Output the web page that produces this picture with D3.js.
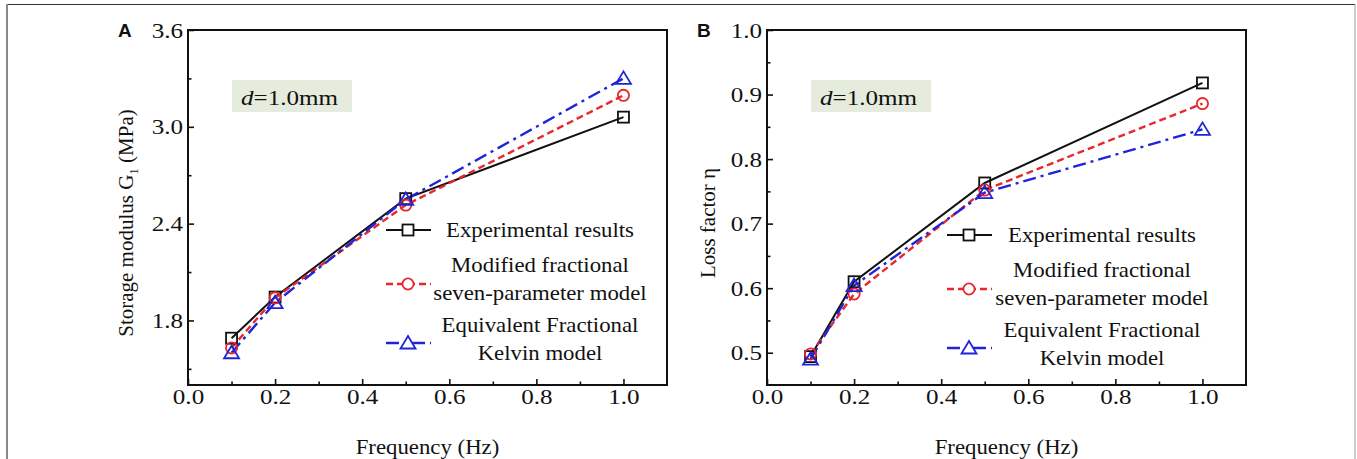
<!DOCTYPE html>
<html>
<head>
<meta charset="utf-8">
<script src="https://cdn.jsdelivr.net/npm/d3@7"></script>
<style>
  body { margin: 0; background: #fff; }
  svg { display: block; font-family: "Liberation Serif", "Times New Roman", serif; }
</style>
</head>
<body>
<div id="chart"></div>
<script>
// data
const freq = [0.1, 0.2, 0.5, 1.0];

const storageExp = [1.69, 1.945, 2.555, 3.06];
const storageMod = [1.63, 1.94, 2.515, 3.195];
const storageEq = [1.60, 1.91, 2.55, 3.30];

const lossExp = [0.494, 0.610, 0.763, 0.918];
const lossMod = [0.498, 0.591, 0.752, 0.886];
const lossEq = [0.490, 0.604, 0.748, 0.846];

const xMajor = [0.0, 0.2, 0.4, 0.6, 0.8, 1.0];
const xMinor = [0.1, 0.3, 0.5, 0.7, 0.9];
const storageMajor = [1.8, 2.4, 3.0, 3.6];
const storageMinor = [1.5, 2.1, 2.7, 3.3];
const lossMajor = [0.5, 0.6, 0.7, 0.8, 0.9, 1.0];
const lossMinor = [0.55, 0.65, 0.75, 0.85, 0.95];

const seriesNames = ["Experimental results", "Modified fractional|seven-parameter model", "Equivalent Fractional|Kelvin model"];
const seriesStyle = [
  { color: "#111111", dash: null, marker: "square", width: 2 },
  { color: "#e8262b", dash: "7,4", marker: "circle", width: 2.4 },
  { color: "#1f24d8", dash: "13,5,3,5", marker: "triangle", width: 2.4 },
];

const SX = 1.14; // the source text is drawn a bit wide

const width = 1357, height = 459;
const svg = d3.select("#chart").append("svg").attr("width", width).attr("height", height);

// outer frame of the figure
svg.append("line").attr("x1", 7).attr("x2", 1355).attr("y1", 4.5).attr("y2", 4.5).attr("stroke", "#333").attr("stroke-width", 1);
svg.append("line").attr("x1", 7).attr("x2", 7).attr("y1", 4).attr("y2", height).attr("stroke", "#888").attr("stroke-width", 2);
svg.append("line").attr("x1", 1355).attr("x2", 1355).attr("y1", 4).attr("y2", height).attr("stroke", "#999").attr("stroke-width", 1);

function wideText(g, x, y, str, size, anchor) {
  const t = g.append("g").attr("transform", `translate(${x},${y}) scale(${SX},1)`)
    .append("text")
    .attr("text-anchor", anchor || "start")
    .attr("dy", "0.35em")
    .attr("font-size", size + "px")
    .attr("fill", "#111");
  t.text(str);
  return t;
}

function drawMarker(g, type, x, y, fill) {
  let m;
  if (type === "square") {
    m = g.append("rect").attr("x", x - 5.5).attr("y", y - 5.5).attr("width", 11).attr("height", 11);
  } else if (type === "circle") {
    m = g.append("circle").attr("cx", x).attr("cy", y).attr("r", 5.6);
  } else {
    m = g.append("path").attr("d", `M${x},${y - 7}L${x + 7.5},${y + 5.5}L${x - 7.5},${y + 5.5}Z`);
  }
  return m.attr("fill", fill);
}

const panels = [
  {
    label: "A", left: 188, yDomain: [1.4, 3.6], yMajor: storageMajor, yMinor: storageMinor,
    series: [storageExp, storageMod, storageEq], yTitle: "storage",
    legendSym: 220, legendText: 352, legendTop: 230, titleX: 62,
  },
  {
    label: "B", left: 767, yDomain: [0.45, 1.0], yMajor: lossMajor, yMinor: lossMinor,
    series: [lossExp, lossMod, lossEq], yTitle: "loss",
    legendSym: 202, legendText: 335, legendTop: 235, titleX: 59,
  },
];

const plotTop = 30, innerW = 479, innerH = 355;

panels.forEach((p) => {
  const g = svg.append("g").attr("transform", `translate(${p.left},${plotTop})`);
  const x = d3.scaleLinear().domain([0, 1.1]).range([0, innerW]);
  const y = d3.scaleLinear().domain(p.yDomain).range([innerH, 0]);

  // minor ticks
  g.append("g").attr("transform", `translate(0,${innerH})`)
    .call(d3.axisBottom(x).tickValues(xMinor).tickSize(-3.5).tickFormat(""))
    .call((a) => a.select(".domain").remove());
  g.append("g")
    .call(d3.axisLeft(y).tickValues(p.yMinor).tickSize(-3.5).tickFormat(""))
    .call((a) => a.select(".domain").remove());

  // major ticks
  const xAxisG = g.append("g").attr("transform", `translate(0,${innerH})`)
    .call(d3.axisBottom(x).tickValues(xMajor).tickSize(-6).tickPadding(3).tickFormat(d3.format(".1f")));
  xAxisG.select(".domain").remove();
  xAxisG.selectAll("text").attr("font-size", "22px").attr("font-family", "Liberation Serif")
    .attr("fill", "#111").attr("transform", `scale(${SX},1)`);

  const yAxisG = g.append("g")
    .call(d3.axisLeft(y).tickValues(p.yMajor).tickSize(-6).tickPadding(5).tickFormat(d3.format(".1f")));
  yAxisG.select(".domain").remove();
  yAxisG.selectAll("text").attr("font-size", "22px").attr("font-family", "Liberation Serif")
    .attr("fill", "#111").attr("x", -5 / SX).attr("transform", `scale(${SX},1)`);

  g.selectAll(".tick line").attr("stroke", "#111").attr("stroke-width", 1.6);

  // plot frame
  g.append("rect").attr("width", innerW).attr("height", innerH)
    .attr("fill", "none").attr("stroke", "#111").attr("stroke-width", 2);

  // d=1.0mm box
  g.append("rect").attr("x", 44).attr("y", 50).attr("width", 120).attr("height", 32).attr("fill", "#e6ecdd");
  const ann = wideText(g, 53, 67, "", 22, "start");
  ann.append("tspan").attr("font-style", "italic").text("d");
  ann.append("tspan").text("=1.0mm");

  // series
  p.series.forEach((vals, i) => {
    const s = seriesStyle[i];
    const pts = freq.map((f, k) => [f, vals[k]]);
    const line = d3.line().x((d) => x(d[0])).y((d) => y(d[1]));
    g.append("path").attr("d", line(pts)).attr("fill", "none")
      .attr("stroke", s.color).attr("stroke-width", s.width)
      .attr("stroke-dasharray", s.dash);
  });
  p.series.forEach((vals, i) => {
    const s = seriesStyle[i];
    freq.forEach((f, k) => {
      drawMarker(g, s.marker, x(f), y(vals[k]), "none")
        .attr("stroke", s.color).attr("stroke-width", 1.8);
    });
  });

  // legend
  const lg = svg.append("g").attr("transform", `translate(${p.left},${p.legendTop})`);
  const textRows = [[0], [35, 63], [95, 123]];
  const symRows = [0, 54, 113];
  seriesNames.forEach((name, i) => {
    const s = seriesStyle[i];
    const sy = symRows[i];
    lg.append("line").attr("x1", p.legendSym - 22).attr("x2", p.legendSym + 23)
      .attr("y1", sy).attr("y2", sy)
      .attr("stroke", s.color).attr("stroke-width", s.width).attr("stroke-dasharray", s.dash);
    drawMarker(lg, s.marker, p.legendSym, sy, "#fff").attr("stroke", s.color).attr("stroke-width", 1.8);
    name.split("|").forEach((part, j) => {
      wideText(lg, p.legendText, textRows[i][j], part, 20, "middle");
    });
  });

  // axis titles
  wideText(svg, p.left + innerW / 2, 447, "Frequency (Hz)", 20, "middle");

  const yt = svg.append("text")
    .attr("transform", `translate(${p.left - p.titleX},223) rotate(-90)`)
    .attr("text-anchor", "middle").attr("dy", "0.35em")
    .attr("font-size", "21px").attr("fill", "#111");
  if (p.yTitle === "storage") {
    yt.append("tspan").text("Storage modulus G");
    yt.append("tspan").attr("font-size", "13px").attr("dy", "5").text("1");
    yt.append("tspan").attr("dy", "-5").text(" (MPa)");
  } else {
    yt.text("Loss factor η");
  }

  // panel letter
  svg.append("text").attr("x", p.left - 70).attr("y", 37)
    .attr("font-family", "Liberation Sans, Arial, sans-serif").attr("font-weight", "bold")
    .attr("font-size", "19px").attr("fill", "#111").text(p.label);
});
</script>
</body>
</html>
